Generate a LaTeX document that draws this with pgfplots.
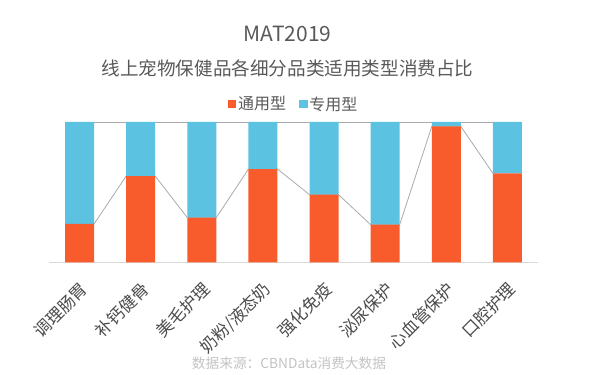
\documentclass[border=0pt]{standalone}
\usepackage{fontspec}
\setmainfont{Noto Sans CJK SC}
\usepackage{pgfplots}
\pgfplotsset{compat=1.18}
\definecolor{corange}{RGB}{249,92,44}
\definecolor{cblue}{RGB}{91,194,226}
\definecolor{ctitle}{RGB}{89,89,89}
\definecolor{ctick}{RGB}{75,75,75}
\definecolor{cline}{RGB}{170,170,170}
\definecolor{caxis}{RGB}{217,217,217}
\definecolor{csrc}{RGB}{195,195,195}
\pgfplotsset{
  common/.style={
    at={(49bp,112.7bp)}, anchor=south west,
    width=489bp, height=140.3bp, scale only axis,
    xmin=-0.5, xmax=7.5, ymin=0, ymax=100,
    clip=false,
  }
}
\begin{document}
\begin{tikzpicture}
\useasboundingbox (0,0) rectangle (602bp,375bp);
\node[text=ctitle, font=\fontsize{21bp}{24bp}\selectfont] at (287.5bp,341bp) {MAT2019};
\node[text=ctitle, font=\fontsize{18.6bp}{22bp}\selectfont] at (287.5bp,307bp) {线上宠物保健品各细分品类适用类型消费占比};
\node[text=csrc, font=\fontsize{13.7bp}{16bp}\selectfont] at (289bp,12bp) {数据来源：CBNData消费大数据};
% series lines behind bars
\begin{axis}[common, axis lines=none]
\addplot[cline, line width=0.8bp] coordinates {(-0.237,100) (7.237,100)};
\addplot[cline, line width=0.8bp] coordinates {
(0.237,27.3) (0.763,61.5) (1.237,61.5) (1.763,31.8) (2.237,31.8) (2.763,66.5)
(3.237,66.5) (3.763,48.2) (4.237,48.2) (4.763,26.8) (5.237,26.8) (5.763,96.9)
(6.237,96.9) (6.763,63.4)};
\end{axis}
\begin{axis}[common,
  ybar stacked, bar width=29bp,
  axis x line*=bottom, axis y line=none,
  x axis line style={draw=caxis, line width=0.8bp, -},
  xtick={0,...,7}, major tick length=0pt,
  xticklabels={调理肠胃,补钙健骨,美毛护理,奶粉/液态奶,强化免疫,泌尿保护,心血管保护,口腔护理},
  xticklabel style={text=ctick, font=\fontsize{16.8bp}{20bp}\selectfont, inner sep=0pt,
    xshift=5bp, yshift=-24bp, rotate=45, anchor=east},
  legend columns=2,
  legend style={at={(0.5,1.128)}, anchor=center, draw=none, fill=none,
    font=\fontsize{16bp}{19bp}\selectfont, text=ctitle,
    /tikz/every even column/.append style={column sep=11bp}},
  legend image code/.code={\fill[#1] (0bp,-4.25bp) rectangle (8.5bp,4.25bp);},
]
\addplot[fill=corange, draw=none] coordinates {(0,27.3) (1,61.5) (2,31.8) (3,66.5) (4,48.2) (5,26.8) (6,96.9) (7,63.4)};
\addlegendentry{通用型}
\addplot[fill=cblue, draw=none] coordinates {(0,72.7) (1,38.5) (2,68.2) (3,33.5) (4,51.8) (5,73.2) (6,3.1) (7,36.6)};
\addlegendentry{专用型}
\end{axis}
\end{tikzpicture}
\end{document}
